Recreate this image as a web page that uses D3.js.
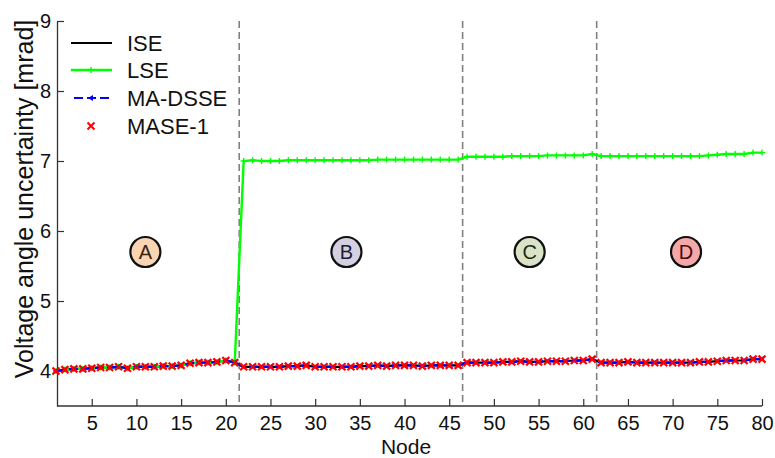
<!DOCTYPE html>
<html>
<head>
<meta charset="utf-8">
<script src="https://cdn.jsdelivr.net/npm/d3@7"></script>
<style>
  html, body { margin: 0; padding: 0; background: #fff; }
  svg { display: block; font-family: "Liberation Sans", Arial, sans-serif; }
</style>
</head>
<body>
<svg id="chart" width="775" height="458"></svg>
<script>
// Node indices along the feeder
const nodes = d3.range(1, 81);

// Voltage angle uncertainty per node [mrad]
const ise = [
  4.00, 4.02, 4.03, 4.03, 4.04, 4.05, 4.05, 4.06, 4.04, 4.06,
  4.06, 4.06, 4.07, 4.07, 4.08, 4.11, 4.12, 4.12, 4.13, 4.15,
  4.12, 4.06, 4.06, 4.06, 4.06, 4.06, 4.07, 4.07, 4.08, 4.06,
  4.06, 4.06, 4.06, 4.06, 4.07, 4.07, 4.08, 4.07, 4.08, 4.08,
  4.08, 4.07, 4.08, 4.08, 4.08, 4.08, 4.12, 4.12, 4.12, 4.12,
  4.13, 4.13, 4.14, 4.13, 4.13, 4.14, 4.14, 4.14, 4.15, 4.15,
  4.17, 4.12, 4.12, 4.12, 4.13, 4.12, 4.12, 4.12, 4.12, 4.12,
  4.12, 4.12, 4.13, 4.13, 4.14, 4.15, 4.15, 4.15, 4.17, 4.17
];
const lse = [
  4.00, 4.02, 4.03, 4.03, 4.04, 4.05, 4.05, 4.06, 4.04, 4.06,
  4.06, 4.06, 4.07, 4.07, 4.08, 4.11, 4.12, 4.12, 4.13, 4.15,
  4.12, 7.00, 7.01, 7.00, 7.00, 7.00, 7.01, 7.01, 7.01, 7.01,
  7.01, 7.01, 7.01, 7.01, 7.01, 7.01, 7.02, 7.02, 7.02, 7.02,
  7.02, 7.02, 7.02, 7.02, 7.02, 7.02, 7.06, 7.06, 7.06, 7.06,
  7.06, 7.07, 7.07, 7.07, 7.07, 7.08, 7.08, 7.08, 7.08, 7.08,
  7.10, 7.07, 7.07, 7.07, 7.07, 7.07, 7.07, 7.07, 7.07, 7.07,
  7.07, 7.07, 7.07, 7.08, 7.09, 7.10, 7.10, 7.10, 7.12, 7.12
];
const maDsse = [
  4.00, 4.02, 4.03, 4.03, 4.04, 4.05, 4.05, 4.06, 4.04, 4.06,
  4.06, 4.06, 4.07, 4.07, 4.08, 4.11, 4.12, 4.12, 4.13, 4.15,
  4.12, 4.06, 4.06, 4.06, 4.06, 4.06, 4.07, 4.07, 4.08, 4.06,
  4.06, 4.06, 4.06, 4.06, 4.07, 4.07, 4.08, 4.07, 4.08, 4.08,
  4.08, 4.07, 4.08, 4.08, 4.08, 4.08, 4.12, 4.12, 4.12, 4.12,
  4.13, 4.13, 4.14, 4.13, 4.13, 4.14, 4.14, 4.14, 4.15, 4.15,
  4.17, 4.12, 4.12, 4.12, 4.13, 4.12, 4.12, 4.12, 4.12, 4.12,
  4.12, 4.12, 4.13, 4.13, 4.14, 4.15, 4.15, 4.15, 4.17, 4.17
];
const mase1 = [
  4.00, 4.02, 4.03, 4.03, 4.04, 4.05, 4.05, 4.06, 4.04, 4.06,
  4.06, 4.06, 4.07, 4.07, 4.08, 4.11, 4.12, 4.12, 4.13, 4.15,
  4.12, 4.06, 4.06, 4.06, 4.06, 4.06, 4.07, 4.07, 4.08, 4.06,
  4.06, 4.06, 4.06, 4.06, 4.07, 4.07, 4.08, 4.07, 4.08, 4.08,
  4.08, 4.07, 4.08, 4.08, 4.08, 4.08, 4.12, 4.12, 4.12, 4.12,
  4.13, 4.13, 4.14, 4.13, 4.13, 4.14, 4.14, 4.14, 4.15, 4.15,
  4.17, 4.12, 4.12, 4.12, 4.13, 4.12, 4.12, 4.12, 4.12, 4.12,
  4.12, 4.12, 4.13, 4.13, 4.14, 4.15, 4.15, 4.15, 4.17, 4.17
];

const xTicks = [5, 10, 15, 20, 25, 30, 35, 40, 45, 50, 55, 60, 65, 70, 75, 80];
const yTicks = [4, 5, 6, 7, 8, 9];

// Zone boundaries (between nodes) and zone labels
const boundaries = [21.5, 46.5, 61.5];
const zoneNames = ["A", "B", "C", "D"];
const zoneCenters = [11, 33.5, 54, 71.5];
const zoneLevel = 5.7;
const zoneFills = ["#f8d4b2", "#d4d0e2", "#d9e3c7", "#f5a8a8"];
const zoneInk = ["#3a2410", "#1c1a2e", "#1e2a10", "#4a0a0a"];

const svg = d3.select("#chart");
const x = d3.scaleLinear().domain([1, 80]).range([56, 762]);
const y = d3.scaleLinear().domain([3.5, 9]).range([406, 21]);
const axisLeftX = 57;

// Axes (ticks pointing inward)
const gx = svg.append("g").attr("transform", `translate(0,${y(3.5)})`)
  .call(d3.axisBottom(x).tickValues(xTicks).tickFormat(d3.format("d"))
    .tickSizeInner(-7).tickSizeOuter(0).tickPadding(10));
const gy = svg.append("g").attr("transform", `translate(${axisLeftX},0)`)
  .call(d3.axisLeft(y).tickValues(yTicks).tickFormat(d3.format("d"))
    .tickSizeInner(-7).tickSizeOuter(0).tickPadding(6));
[gx, gy].forEach(g => {
  g.attr("font-size", null).attr("font-family", null);
  g.select(".domain").attr("stroke", "#333").attr("stroke-width", 1.3);
  g.selectAll(".tick line").attr("stroke", "#333").attr("stroke-width", 1.2);
  g.selectAll(".tick text").attr("fill", "#111").style("font-size", "20px");
});
gx.select(".domain").attr("d", `M${axisLeftX},0H${x(80)}`);

// Axis titles
svg.append("text").attr("x", 406).attr("y", 453.5).attr("text-anchor", "middle")
  .style("font-size", "21px").attr("fill", "#111").text("Node");
svg.append("text").attr("transform", "translate(33,199) rotate(-90)").attr("text-anchor", "middle")
  .style("font-size", "25px").attr("fill", "#111").text("Voltage angle uncertainty [mrad]");

// Zone separators
svg.append("g").selectAll("line").data(boundaries).join("line")
  .attr("x1", d => x(d)).attr("x2", d => x(d))
  .attr("y1", y(9)).attr("y2", y(3.5))
  .attr("stroke", "#808080").attr("stroke-width", 1.6).attr("stroke-dasharray", "7,4");

const line = vals => d3.line().x((d, i) => x(nodes[i])).y(d => y(d))(vals);

// ISE
svg.append("path").attr("d", line(ise)).attr("fill", "none")
  .attr("stroke", "#000").attr("stroke-width", 2.2);

// LSE
svg.append("path").attr("d", line(lse)).attr("fill", "none")
  .attr("stroke", "#00ff00").attr("stroke-width", 2.4);
svg.append("g").selectAll("path").data(lse).join("path")
  .attr("d", (d, i) => `M${x(nodes[i]) - 3},${y(d)}h6M${x(nodes[i])},${y(d) - 3}v6`)
  .attr("stroke", "#00ff00").attr("stroke-width", 1.4);

// MA-DSSE
svg.append("path").attr("d", line(maDsse)).attr("fill", "none")
  .attr("stroke", "#0000ff").attr("stroke-width", 2.4).attr("stroke-dasharray", "9,4");
svg.append("g").selectAll("path").data(maDsse).join("path")
  .attr("d", (d, i) => `M${x(nodes[i]) - 3},${y(d)}l5,-3v6z`)
  .attr("fill", "#0000ff");

// MASE-1
svg.append("g").selectAll("path").data(mase1).join("path")
  .attr("d", (d, i) => `M${x(nodes[i]) - 3.5},${y(d) - 3.5}l7,7M${x(nodes[i]) - 3.5},${y(d) + 3.5}l7,-7`)
  .attr("stroke", "#ff0000").attr("stroke-width", 2.2);

// Zone badges
const badges = svg.append("g").selectAll("g").data(zoneNames).join("g")
  .attr("transform", (d, i) => `translate(${x(zoneCenters[i])},${y(zoneLevel)})`);
badges.append("circle").attr("r", 15).attr("fill", (d, i) => zoneFills[i])
  .attr("stroke", "#111").attr("stroke-width", 2.2);
badges.append("text").attr("text-anchor", "middle").attr("dy", "0.36em")
  .style("font-size", "20px").attr("fill", (d, i) => zoneInk[i]).text(d => d);

// Legend
const legendNames = ["ISE", "LSE", "MA-DSSE", "MASE-1"];
const legendRows = [43, 70, 98, 126];
const lg = svg.append("g");
lg.selectAll("text").data(legendNames).join("text")
  .attr("x", 127).attr("y", (d, i) => legendRows[i]).attr("dy", "0.36em")
  .style("font-size", "22px").attr("fill", "#111").text(d => d);
lg.append("line").attr("x1", 71).attr("x2", 112).attr("y1", legendRows[0]).attr("y2", legendRows[0])
  .attr("stroke", "#000").attr("stroke-width", 2);
lg.append("line").attr("x1", 71).attr("x2", 112).attr("y1", legendRows[1]).attr("y2", legendRows[1])
  .attr("stroke", "#00ff00").attr("stroke-width", 2.4);
lg.append("path").attr("d", `M88,${legendRows[1]}h6M91,${legendRows[1] - 3}v6`)
  .attr("stroke", "#00ff00").attr("stroke-width", 1.4);
lg.append("line").attr("x1", 74).attr("x2", 112).attr("y1", legendRows[2]).attr("y2", legendRows[2])
  .attr("stroke", "#0000ff").attr("stroke-width", 2.2).attr("stroke-dasharray", "9,4");
lg.append("path").attr("d", `M88,${legendRows[2]}l5,-3v6z`).attr("fill", "#0000ff");
lg.append("path").attr("d", `M87.5,${legendRows[3] - 3.5}l7,7M87.5,${legendRows[3] + 3.5}l7,-7`)
  .attr("stroke", "#ff0000").attr("stroke-width", 2);
</script>
</body>
</html>
